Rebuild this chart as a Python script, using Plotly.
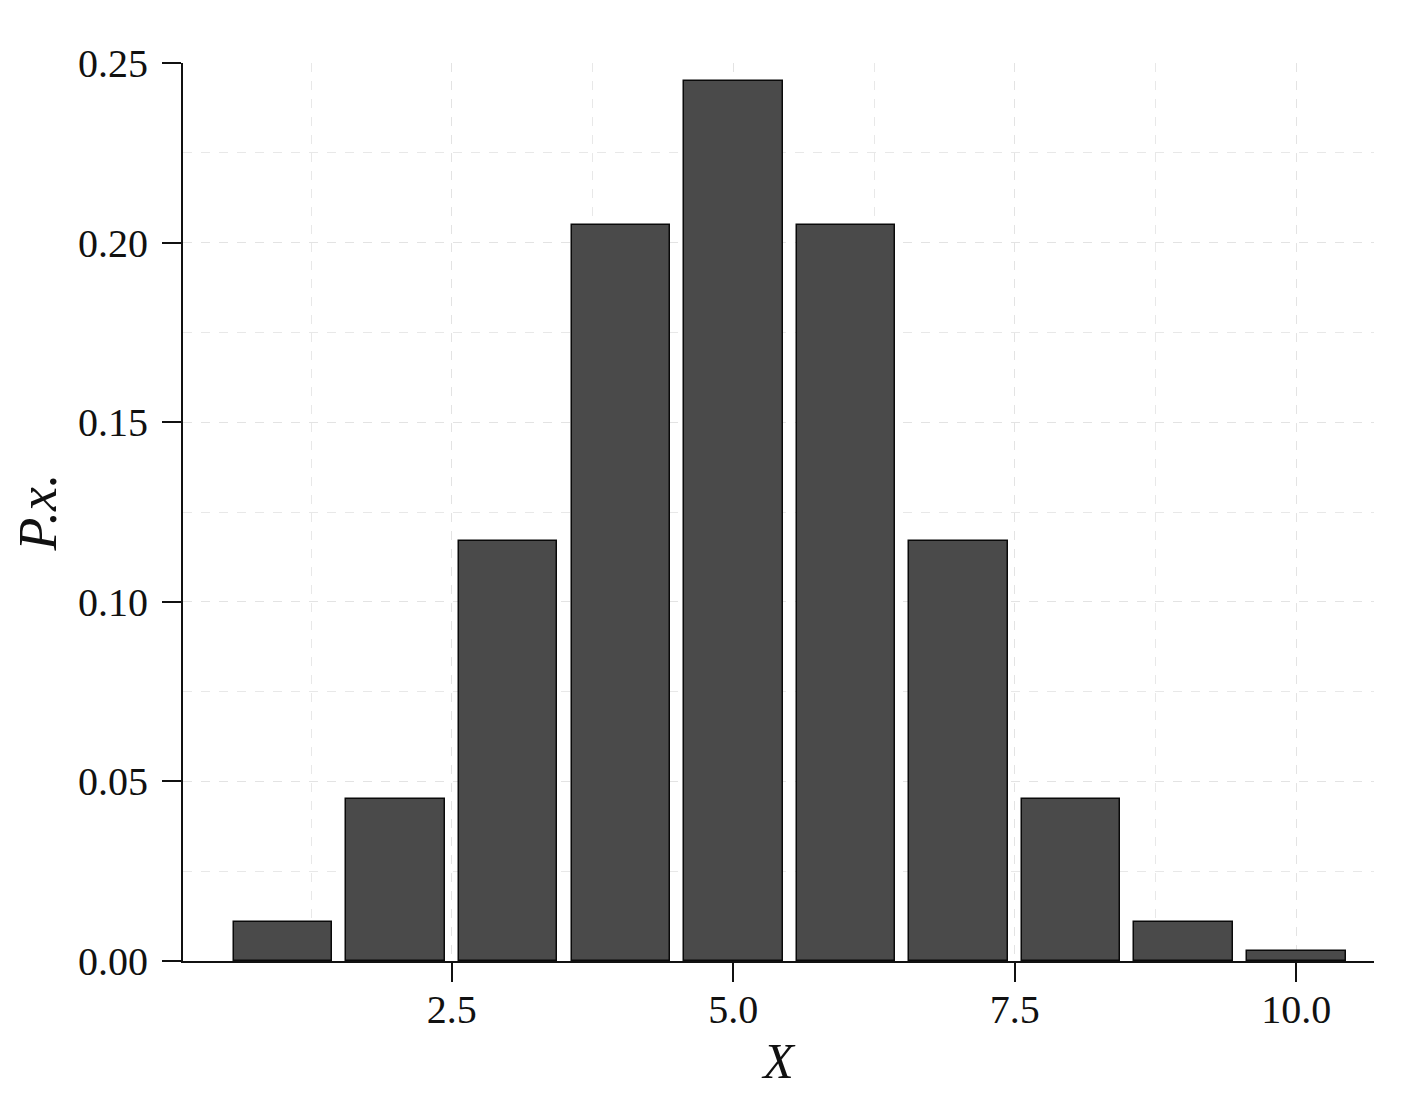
import plotly.graph_objects as go

x_values = [1, 2, 3, 4, 5, 6, 7, 8, 9, 10]
probabilities = [0.0108, 0.0452, 0.117, 0.205, 0.245, 0.205, 0.117, 0.0452, 0.0108, 0.0029]
x_tick_vals = [2.5, 5.0, 7.5, 10.0]
x_tick_text = ["2.5", "5.0", "7.5", "10.0"]
y_tick_vals = [0.0, 0.05, 0.10, 0.15, 0.20, 0.25]
y_tick_text = ["0.00", "0.05", "0.10", "0.15", "0.20", "0.25"]

font_family = "Liberation Serif"

fig = go.Figure()
fig.add_trace(go.Bar(
    x=x_values, y=probabilities, width=0.875,
    marker=dict(color="#4a4a4a", line=dict(color="#0a0a0a", width=1.5)),
    showlegend=False,
))

fig.update_layout(
    width=1426, height=1103,
    margin=dict(l=175, r=60, t=55, b=150),
    paper_bgcolor="white", plot_bgcolor="white",
    font=dict(family=font_family, color="#111111", size=40),
    bargap=0,
)

fig.update_xaxes(
    range=[0.112, 10.69],
    tickvals=x_tick_vals, ticktext=x_tick_text,
    ticks="outside", ticklen=19, tickwidth=2, tickcolor="#111111",
    showline=True, linecolor="#111111", linewidth=2,
    showgrid=True, gridcolor="#e3e3e3", griddash="dash", gridwidth=1,
    minor=dict(tickvals=[1.25, 3.75, 6.25, 8.75], showgrid=True,
               gridcolor="#e8e8e8", griddash="dash", gridwidth=1, ticks=""),
    tickfont=dict(size=40, family=font_family),
    ticklabelstandoff=-7,
    title=dict(text="<i>X</i>", font=dict(size=50, family=font_family), standoff=12),
    zeroline=False,
)

fig.update_yaxes(
    range=[0, 0.25],
    tickvals=y_tick_vals, ticktext=y_tick_text,
    ticks="outside", ticklen=19, tickwidth=2, tickcolor="#111111",
    showline=True, linecolor="#111111", linewidth=2,
    showgrid=True, gridcolor="#e3e3e3", griddash="dash", gridwidth=1,
    minor=dict(dtick=0.025, showgrid=True, gridcolor="#e8e8e8", griddash="dash",
               gridwidth=1, ticks=""),
    tickfont=dict(size=40, family=font_family),
    ticklabelstandoff=6,
    title=dict(text="<i>P.x.</i>", font=dict(size=54, family=font_family), standoff=14),
    zeroline=False,
)

fig.write_html("out.html")
